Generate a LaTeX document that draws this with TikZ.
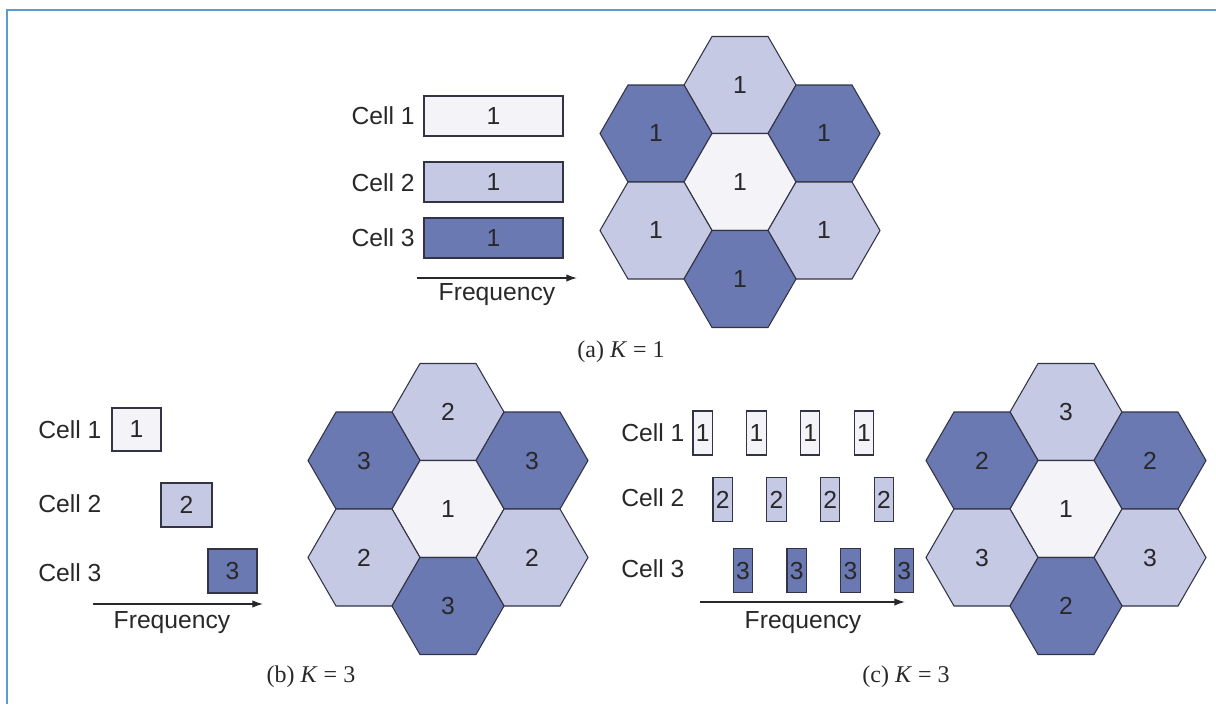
\documentclass[tikz,border=0pt]{standalone}
\usepackage{fontspec}
\setmainfont{Liberation Sans}
\newfontfamily\capfont{Liberation Serif}
\usetikzlibrary{arrows.meta}

\definecolor{celllight}{RGB}{244,244,248}
\definecolor{cellmid}{RGB}{198,201,228}
\definecolor{celldark}{RGB}{106,121,177}
\definecolor{edgecol}{RGB}{50,52,70}
\definecolor{txtcol}{RGB}{40,40,40}
\definecolor{framecol}{RGB}{91,155,213}

% one hexagonal cell: centre, fill, label, node name
\newcommand\hexcell[4]{%
  \begin{scope}[shift={(#1)}]
    \draw[hexline,fill=#2] (56,0) -- (28,48.5) -- (-28,48.5) -- (-56,0)
      -- (-28,-48.5) -- (28,-48.5) -- cycle;
    \node[hexnum] (#4) at (0,0) {#3};
  \end{scope}}

% seven-cell cluster: centre x, centre y, name prefix,
% labels of top, upper left, upper right, lower left, lower right, bottom
\newcommand\hexcluster[9]{%
  \begin{scope}[shift={(#1,#2)}]
    \hexcell{0,-97}{cellmid}{#4}{#3t}
    \hexcell{-84,-48.5}{celldark}{#5}{#3ul}
    \hexcell{84,-48.5}{celldark}{#6}{#3ur}
    \hexcell{0,0}{celllight}{1}{#3c}
    \hexcell{-84,48.5}{cellmid}{#7}{#3ll}
    \hexcell{84,48.5}{cellmid}{#8}{#3lr}
    \hexcell{0,97}{celldark}{#9}{#3b}
  \end{scope}}

\begin{document}
\begin{tikzpicture}[x=0.75pt,y=-0.75pt,
  sans/.style={font=\fontsize{18.5}{22}\selectfont},
  hexline/.style={draw=edgecol,line width=0.8pt,line join=miter},
  hexnum/.style={sans,text=txtcol,inner sep=0pt},
  bar/.style={sans,draw=edgecol,line width=0.8pt,inner sep=0pt,text=txtcol},
  celllabel/.style={sans,inner sep=0pt,text=txtcol},
  freqlabel/.style={sans,inner sep=0pt,text=txtcol,anchor=base},
  freqarrow/.style={draw=txtcol,line width=0.9pt,-{Latex[length=8pt,width=5.5pt]}},
  caption/.style={inner sep=0pt,anchor=base,text=txtcol,font=\capfont\fontsize{18}{22}\selectfont},
  frame/.style={draw=framecol,line width=1.6pt}]

\useasboundingbox (0,0) rectangle (1216,704);

% page frame
\coordinate (f0) at (7.3,704);
\coordinate (f1) at (7.3,10.3);
\coordinate (f2) at (1216,10.3);
\draw[frame] (f0) -- (f1) -- (f2);

% ---------- (a) K = 1 ----------
\node[celllabel,anchor=east] (aL1) at (415,116) {Cell 1};
\node[celllabel,anchor=east] (aL2) at (415,183) {Cell 2};
\node[celllabel,anchor=east] (aL3) at (415,238) {Cell 3};
\node[bar,fill=celllight,minimum width=104.25pt,minimum height=30pt] (aB1) at (493.5,116) {1};
\node[bar,fill=cellmid,minimum width=104.25pt,minimum height=30pt] (aB2) at (493.5,182) {1};
\node[bar,fill=celldark,minimum width=104.25pt,minimum height=30pt] (aB3) at (493.5,238) {1};
\coordinate (aF0) at (417,278);
\coordinate (aF1) at (577,278);
\draw[freqarrow] (aF0) -- (aF1);
\node[freqlabel] (aFreq) at (497,300) {Frequency};

\hexcluster{740}{182}{a}{1}{1}{1}{1}{1}{1}
\node[caption] (capA) at (621,357) {(a) \textit{K} = 1};

% ---------- (b) K = 3 ----------
\node[celllabel,anchor=west] (bL1) at (38,430) {Cell 1};
\node[celllabel,anchor=west] (bL2) at (38,504) {Cell 2};
\node[celllabel,anchor=west] (bL3) at (38,573) {Cell 3};
\node[bar,fill=celllight,minimum width=36.75pt,minimum height=32.25pt] (bB1) at (136.5,429.5) {1};
\node[bar,fill=cellmid,minimum width=38.25pt,minimum height=33pt] (bB2) at (186.5,505) {2};
\node[bar,fill=celldark,minimum width=36.75pt,minimum height=33pt] (bB3) at (232.5,571) {3};
\coordinate (bF0) at (93,604);
\coordinate (bF1) at (263,604);
\draw[freqarrow] (bF0) -- (bF1);
\node[freqlabel] (bFreq) at (172,628) {Frequency};

\hexcluster{448}{509}{b}{2}{3}{3}{2}{2}{3}
\node[caption] (capB) at (311,682) {(b) \textit{K} = 3};

% ---------- (c) K = 3 ----------
\node[celllabel,anchor=west] (cL1) at (621,433) {Cell 1};
\node[celllabel,anchor=west] (cL2) at (621,498) {Cell 2};
\node[celllabel,anchor=west] (cL3) at (621,569) {Cell 3};
\foreach \i [count=\n] in {0,1,2,3} {
  \node[bar,fill=celllight,minimum width=14.6pt,minimum height=33pt] (cB1\n) at ({702.75+53.7*\i},433) {1};
  \node[bar,fill=cellmid,minimum width=14.6pt,minimum height=33pt] (cB2\n) at ({722.75+53.7*\i},499.5) {2};
  \node[bar,fill=celldark,minimum width=14.6pt,minimum height=33pt] (cB3\n) at ({743+53.7*\i},570.5) {3};
}
\coordinate (cF0) at (700,602);
\coordinate (cF1) at (905,602);
\draw[freqarrow] (cF0) -- (cF1);
\node[freqlabel] (cFreq) at (803,628) {Frequency};

\hexcluster{1066}{509}{c}{3}{2}{2}{3}{3}{2}
\node[caption] (capC) at (906,682) {(c) \textit{K} = 3};

\end{tikzpicture}
\end{document}
